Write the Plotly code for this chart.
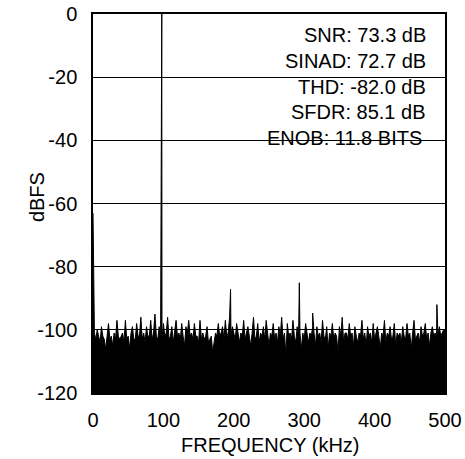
import plotly.graph_objects as go

# ---- data ----
noise_start_khz = 0
noise_step_khz = 2
noise_dbfs = [
    -63, -101, -103, -100, -102, -104, -99, -102, -103, -106,
    -102, -98, -103, -102, -105, -101, -103, -97, -102, -103,
    -102, -101, -104, -97, -103, -102, -106, -101, -99, -103,
    -103, -98, -102, -102, -96, -103, -101, -104, -99, -102,
    -102, -97, -103, -101, -95, -102, -103, -99, -102, -103,
    -98, -102, -101, -96, -103, -102, -99, -104, -101, -97,
    -102, -101, -103, -98, -102, -105, -99, -101, -97, -102,
    -101, -103, -98, -102, -102, -104, -97, -103, -101, -103,
    -102, -99, -104, -103, -102, -107, -103, -101, -102, -98,
    -102, -101, -99, -103, -97, -102, -101, -96, -102, -99,
    -101, -103, -98, -102, -104, -101, -102, -97, -103, -101,
    -99, -102, -105, -101, -96, -103, -102, -98, -104, -101,
    -102, -99, -103, -97, -102, -105, -101, -102, -98, -103,
    -101, -104, -99, -102, -96, -103, -101, -108, -98, -102,
    -101, -103, -97, -102, -104, -99, -102, -101, -106, -101,
    -103, -98, -102, -104, -101, -102, -99, -101, -105, -99,
    -102, -101, -104, -97, -102, -103, -99, -106, -101, -102,
    -98, -103, -101, -102, -107, -99, -102, -96, -104, -101,
    -101, -103, -98, -102, -101, -105, -99, -102, -104, -101,
    -102, -97, -103, -101, -105, -99, -102, -101, -104, -98,
    -103, -101, -99, -102, -106, -101, -102, -97, -104, -101,
    -102, -99, -103, -102, -98, -105, -101, -102, -101, -104,
    -99, -102, -103, -98, -102, -101, -106, -101, -97, -103,
    -102, -101, -104, -99, -102, -101, -98, -103, -101, -105,
    -101, -99, -102, -101, -103, -102, -99, -102, -101, -100,
    -100,
]
tone_khz = [97.7]
tone_dbfs = [0.0]
spur_khz = [195.4, 293.1, 312.0, 488.5]
spur_dbfs = [-87.2, -85.1, -94.7, -92.0]

metric_labels = ["SNR: 73.3 dB", "SINAD: 72.7 dB", "THD: -82.0 dB",
                 "SFDR: 85.1 dB", "ENOB: 11.8 BITS"]
metric_y = [-6.6, -14.9, -23.1, -31.0, -39.3]
metric_right_khz = [476, 476, 476, 476, 470]

x_ticks = [0, 100, 200, 300, 400, 500]
y_ticks = [-120, -100, -80, -60, -40, -20, 0]
y_tick_text = ["-120", "-100", "-80", "-60", "-40", "-20", "0"]

# ---- merge spectrum ----
noise_khz = [noise_start_khz + i * noise_step_khz for i in range(len(noise_dbfs))]
pts = sorted(list(zip(noise_khz, noise_dbfs)) + list(zip(tone_khz, tone_dbfs))
             + list(zip(spur_khz, spur_dbfs)))
fx = [p[0] for p in pts]
fy = [p[1] for p in pts]

FONT = "Arial, Liberation Sans, sans-serif"

fig = go.Figure()
fig.add_trace(go.Scatter(x=[0, 500], y=[-120, -120], mode="lines",
                         line=dict(color="black", width=0), hoverinfo="skip"))
fig.add_trace(go.Scatter(x=fx, y=fy, mode="lines", fill="tonexty",
                         fillcolor="black", line=dict(color="black", width=1)))

# white box behind metrics text
fig.add_shape(type="rect", xref="x", yref="y", x0=249, x1=490, y0=-42.5, y1=-2,
              fillcolor="white", line=dict(width=0), layer="below")

for lab, yv, xr in zip(metric_labels, metric_y, metric_right_khz):
    fig.add_annotation(x=xr, y=yv, xref="x", yref="y", text=lab, showarrow=False,
                       xanchor="right", yanchor="middle",
                       font=dict(family=FONT, size=20, color="black"))

fig.add_annotation(x=-0.159, y=0.517, xref="paper", yref="paper", text="dBFS",
                   textangle=-90, showarrow=False, xanchor="center", yanchor="middle",
                   font=dict(family=FONT, size=20, color="black"))
fig.add_annotation(x=0.505, y=-0.137, xref="paper", yref="paper",
                   text="FREQUENCY (kHz)", showarrow=False, xanchor="center",
                   yanchor="middle", font=dict(family=FONT, size=20, color="black"))

fig.update_layout(
    width=465, height=459,
    margin=dict(l=93, r=20, t=14, b=66, autoexpand=False),
    plot_bgcolor="white", paper_bgcolor="white",
    showlegend=False,
    font=dict(family=FONT, size=20, color="black"),
)
fig.update_xaxes(range=[0, 500], tickvals=x_ticks, showgrid=False, zeroline=False,
                 showline=True, linecolor="black", linewidth=1.5, mirror=True,
                 ticks="", ticklabelstandoff=8, automargin=False,
                 ticklabeloverflow="allow",
                 tickfont=dict(family=FONT, size=20, color="black"))
fig.update_yaxes(range=[-120, 0], tickvals=y_ticks, ticktext=y_tick_text,
                 showgrid=True, gridcolor="black",
                 gridwidth=1, zeroline=False, showline=True, linecolor="black",
                 linewidth=1.5, mirror=True, ticks="", ticklabelstandoff=10,
                 automargin=False, ticklabeloverflow="allow",
                 tickfont=dict(family=FONT, size=20, color="black"))

fig.write_html(
    "out.html",
    config={"displayModeBar": False},
    post_script="document.body.style.margin='0';document.body.style.overflow='hidden';",
)
